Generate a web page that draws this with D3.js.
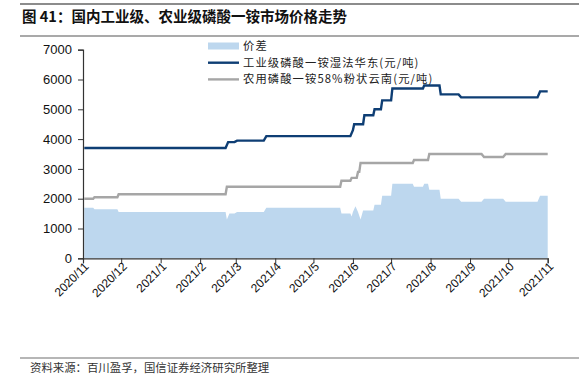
<!DOCTYPE html>
<html>
<head>
<meta charset="utf-8">
<script src="https://cdn.jsdelivr.net/npm/d3@7"></script>
<style>
  body { margin: 0; background: #fff; }
  svg { display: block; }
</style>
</head>
<body>
<svg id="chart" width="579" height="385"></svg>
<script>
// points where each series changes level
const indDates = ["2020-11-02","2021-02-21","2021-02-23","2021-02-28","2021-03-02","2021-03-23","2021-03-25",
  "2021-05-30","2021-06-01","2021-06-02","2021-06-09","2021-06-10","2021-06-17","2021-06-18","2021-06-23",
  "2021-06-24","2021-07-01","2021-07-02","2021-07-26","2021-07-27","2021-08-08","2021-08-09","2021-08-23",
  "2021-08-25","2021-10-24","2021-10-26","2021-11-01"];
const indValues = [3700,3700,3900,3900,3950,3950,4100,
  4100,4300,4500,4500,4800,4800,5000,5000,
  5300,5300,5700,5700,5800,5800,5500,5500,
  5400,5400,5600,5600];

const agrDates = ["2020-11-02","2020-11-09","2020-11-10","2020-11-28","2020-11-29","2021-02-21","2021-02-22",
  "2021-05-22","2021-05-23","2021-05-30","2021-05-31","2021-06-04","2021-06-05","2021-06-06","2021-06-07",
  "2021-07-18","2021-07-19","2021-07-30","2021-07-31","2021-09-10","2021-09-12","2021-09-27","2021-09-29",
  "2021-11-01"];
const agrValues = [2000,2000,2050,2050,2150,2150,2400,
  2400,2600,2600,2700,2700,2900,2900,3200,
  3200,3300,3300,3500,3500,3400,3400,3500,
  3500];

const sprDates = ["2020-11-02","2020-11-09","2020-11-10","2020-11-28","2020-11-29","2021-02-21","2021-02-22",
  "2021-02-24","2021-02-28","2021-03-02","2021-03-23","2021-03-25","2021-05-22","2021-05-23","2021-05-30",
  "2021-05-31","2021-06-01","2021-06-03","2021-06-05","2021-06-07","2021-06-09","2021-06-17","2021-06-18",
  "2021-06-23","2021-06-24","2021-07-01","2021-07-02","2021-07-18","2021-07-19","2021-07-26","2021-07-27",
  "2021-07-30","2021-07-31","2021-08-08","2021-08-09","2021-08-23","2021-08-25","2021-09-10","2021-09-12",
  "2021-09-27","2021-09-29","2021-10-24","2021-10-26","2021-11-01"];
const sprValues = [1700,1700,1650,1650,1550,1550,1300,
  1500,1500,1550,1550,1700,1700,1500,1500,
  1400,1550,1750,1550,1300,1600,1600,1800,
  1800,2100,2100,2500,2500,2400,2400,2500,
  2500,2300,2300,2000,2000,1900,1900,2000,
  2000,1900,1900,2100,2100];

const yTicks = [0,1000,2000,3000,4000,5000,6000,7000];
const legendLabels = ["价差","工业级磷酸一铵湿法华东(元/吨)","农用磷酸一铵58%粉状云南(元/吨)"];
const titleText = "图 41：国内工业级、农业级磷酸一铵市场价格走势";
const sourceText = "资料来源：百川盈孚，国信证券经济研究所整理";

const parse = d3.timeParse("%Y-%m-%d");
const toSeries = (ds, vs) => ds.map((d, i) => ({ date: parse(d), value: vs[i] }));
const ind = toSeries(indDates, indValues);
const agr = toSeries(agrDates, agrValues);
const spr = toSeries(sprDates, sprValues);

const svg = d3.select("#chart");
svg.append("rect").attr("width", 579).attr("height", 385).attr("fill", "#fff");

const plotL = 83, plotR = 547.7, plotT = 49.7, plotB = 258.3;
const x = d3.scaleTime().domain([new Date(2020, 10, 1), new Date(2021, 10, 1)]).range([plotL, plotR]);
const y = d3.scaleLinear().domain([0, 7000]).range([plotB, plotT]);

// header and footer rules
svg.append("line").attr("x1", 20).attr("x2", 579).attr("y1", 4).attr("y2", 4).attr("stroke", "#8c8c8c").attr("stroke-width", 2);
svg.append("line").attr("x1", 20).attr("x2", 579).attr("y1", 36).attr("y2", 36).attr("stroke", "#8c8c8c").attr("stroke-width", 1.5);
svg.append("text").attr("x", 22).attr("y", 22).attr("font-family", "Noto Sans CJK SC").attr("font-weight", "bold")
  .attr("font-size", 14.5).attr("fill", "#111").text(titleText);
svg.append("line").attr("x1", 20).attr("x2", 579).attr("y1", 358).attr("y2", 358).attr("stroke", "#6e6e6e").attr("stroke-width", 1.2);
svg.append("text").attr("x", 30).attr("y", 372).attr("font-family", "Noto Sans CJK SC")
  .attr("font-size", 11.4).attr("fill", "#333").text(sourceText);

// spread area
svg.append("path").datum(spr)
  .attr("fill", "#bdd7ee")
  .attr("d", d3.area().x(d => x(d.date)).y0(y(0)).y1(d => y(d.value)));

const line = d3.line().x(d => x(d.date)).y(d => y(d.value));
svg.append("path").datum(agr).attr("fill", "none").attr("stroke", "#a6a6a6").attr("stroke-width", 2.4).attr("d", line);
svg.append("path").datum(ind).attr("fill", "none").attr("stroke", "#0e3e74").attr("stroke-width", 2.4).attr("d", line);

// axes
const yAxis = svg.append("g").attr("transform", `translate(${plotL},0)`)
  .call(d3.axisLeft(y).tickValues(yTicks).tickSize(5).tickPadding(6).tickFormat(d3.format("d")));
const xAxis = svg.append("g").attr("transform", `translate(0,${plotB})`)
  .call(d3.axisBottom(x).ticks(d3.timeMonth.every(1)).tickSize(5).tickFormat(d3.timeFormat("%Y/%-m")));
[yAxis, xAxis].forEach(g => {
  g.select(".domain").attr("stroke", "#333").attr("stroke-width", 1.2);
  g.selectAll(".tick line").attr("stroke", "#333");
  g.selectAll("text").attr("font-family", "Liberation Sans, Arial").attr("fill", "#111");
});
yAxis.selectAll("text").attr("font-size", 13);
xAxis.selectAll("text").attr("font-size", 12)
  .attr("text-anchor", "end")
  .attr("transform", "translate(3,6) rotate(-45)")
  .attr("dy", "0.35em").attr("y", 0).attr("x", 0);

// legend
const lg = svg.append("g").attr("font-family", "Noto Sans CJK SC").attr("font-size", 11.3)
  .attr("letter-spacing", 1.1).attr("fill", "#222");
const lgY = [46, 62.7, 79.4];
lg.append("rect").attr("x", 208).attr("y", lgY[0] - 3.5).attr("width", 31).attr("height", 7).attr("fill", "#bdd7ee");
lg.append("line").attr("x1", 208).attr("x2", 239).attr("y1", lgY[1]).attr("y2", lgY[1]).attr("stroke", "#0e3e74").attr("stroke-width", 2.4);
lg.append("line").attr("x1", 208).attr("x2", 239).attr("y1", lgY[2]).attr("y2", lgY[2]).attr("stroke", "#a6a6a6").attr("stroke-width", 2.4);
legendLabels.forEach((t, i) => {
  lg.append("text").attr("x", 243).attr("y", lgY[i]).attr("dy", "0.35em").text(t);
});
</script>
</body>
</html>
